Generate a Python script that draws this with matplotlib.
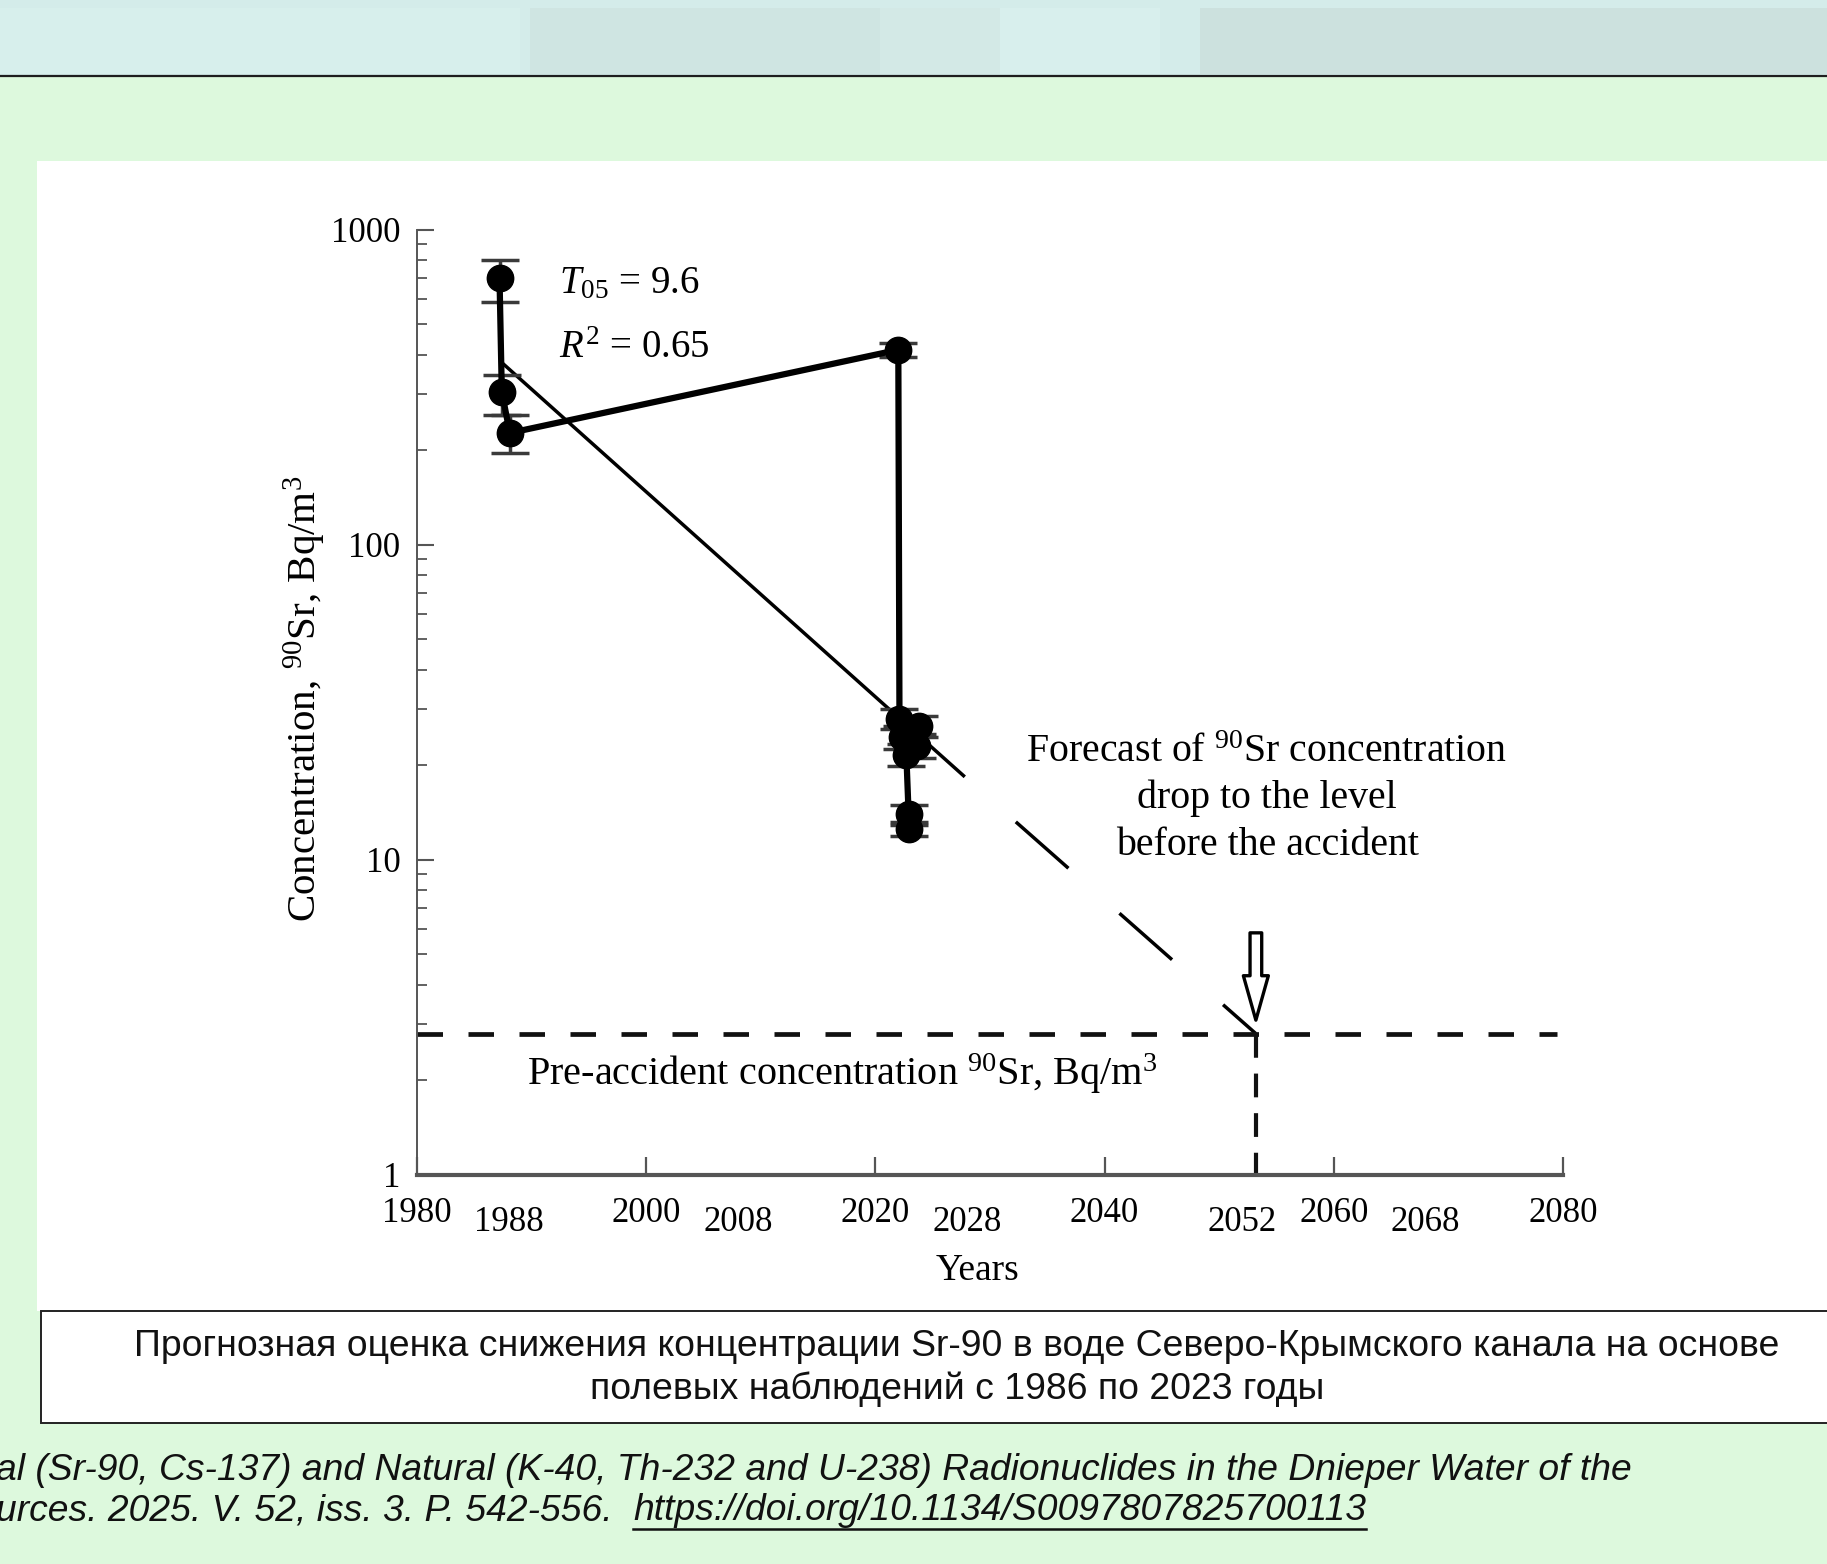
import numpy as np
import matplotlib
matplotlib.use("Agg")
import matplotlib.pyplot as plt
from matplotlib.patches import Rectangle
from matplotlib.lines import Line2D
from matplotlib.ticker import FixedLocator, FixedFormatter, LogLocator, NullFormatter

# ---- values ----
obs_years = [1987.2, 1987.4, 1988.1, 2022.0, 2022.1, 2023.8, 2022.3, 2023.6, 2022.7, 2022.9, 2022.9]
obs_conc = [702, 305, 226, 415, 28, 26.5, 24.5, 23, 21.5, 13.9, 12.5]
obs_low = [589, 258, 195, 395, 26, 24.5, 22.5, 21, 19.8, 12.9, 11.9]
obs_high = [800, 345, 258, 435, 30, 28.5, 26.5, 25, 23.2, 14.9, 13.2]

# regression: start, end of solid part, crossing of pre-accident level
fit_years = [1987.4, 2027.8, 2053.2]
fit_conc = [378, 18.3, 2.8]

pre_accident_level = 2.8
target_year = 2053.2
arrow_top, arrow_tip = 5.85, 3.09

major_years = [1980, 2000, 2020, 2040, 2060, 2080]
extra_years = [1988, 2008, 2028, 2052, 2068]
y_ticks = [1, 10, 100, 1000]
y_ticklabels = ["1", "10", "100", "1000"]

caption_lines = ["Прогнозная оценка снижения концентрации Sr-90 в воде Северо-Крымского канала на основе",
                 "полевых наблюдений с 1986 по 2023 годы"]
citation_line1 = "al (Sr-90, Cs-137) and Natural (K-40, Th-232 and U-238) Radionuclides in the Dnieper Water of the"
citation_line2 = "urces. 2025. V. 52, iss. 3. P. 542-556.  "
citation_url = "https://doi.org/10.1134/S0097807825700113"
forecast_lines = [r"Forecast of $^{90}$Sr concentration", "drop to the level", "before the accident"]

W, H = 1827, 1564
GREEN = "#ddf9dd"

plt.rcParams['font.family'] = ['Liberation Serif', 'DejaVu Serif']
plt.rcParams['mathtext.fontset'] = 'custom'
plt.rcParams['mathtext.rm'] = 'Liberation Serif'
plt.rcParams['mathtext.it'] = 'Liberation Serif:italic'


def fx(x):
    return x / W


def fy(y):
    return 1 - y / H


def rect(fig, x0, y0, x1, y1, **kw):
    r = Rectangle((fx(x0), fy(y1)), (x1 - x0) / W, (y1 - y0) / H,
                  transform=fig.transFigure, **kw)
    fig.add_artist(r)
    return r


fig = plt.figure(figsize=(W / 100, H / 100), dpi=100, facecolor=GREEN)

# header band (blurred page banner)
rect(fig, 0, 0, W, 76, facecolor="#d4ecea", edgecolor="none", zorder=0)
for x0, x1, c in [(0, 520, "#d7efec"), (530, 880, "#cfe5e2"), (880, 1000, "#d3e9e6"),
                  (1000, 1160, "#d8efed"), (1200, 1827, "#cce1de")]:
    rect(fig, x0, 8, x1, 74, facecolor=c, edgecolor="none", zorder=0)
fig.add_artist(Line2D([0, 1], [fy(76), fy(76)], transform=fig.transFigure,
                      color="#1e1e1e", lw=1.6, zorder=1))

# white panel and caption box
rect(fig, 37, 161, W + 5, 1311, facecolor="white", edgecolor="none", zorder=0)
rect(fig, 41, 1311, W + 20, 1423, facecolor="white", edgecolor="#222222", lw=1.4, zorder=1)

ax = fig.add_axes([fx(417), fy(1174.5), 1146 / W, 945 / H])
ax.set_facecolor("none")
ax.set_yscale("log")
ax.set_xlim(1980, 2080)
ax.set_ylim(1, 1000)

# regression line, solid then dashed forecast
ax.plot(fit_years[:2], fit_conc[:2], color="black", lw=2.5, solid_capstyle="butt", zorder=2)
ax.plot(fit_years[1:], fit_conc[1:], color="black", lw=2.5,
        linestyle=(20.2, (20.2, 19.6)), dash_capstyle="butt", zorder=2)

# pre-accident level and year marker
ax.plot([major_years[0], major_years[-1] - 0.5], [pre_accident_level, pre_accident_level],
        color="#111111", lw=3.4, linestyle=(0, (5.4, 5.4)), dash_capstyle="butt", zorder=2)
ax.plot([target_year, target_year], [pre_accident_level, 1], color="#111111", lw=3.0,
        linestyle=(0, (5.7, 3.8)), dash_capstyle="butt", zorder=2)

ax.annotate("", xy=(target_year, arrow_tip), xytext=(target_year, arrow_top),
            arrowprops=dict(arrowstyle="simple,head_length=1.6,head_width=0.9,tail_width=0.42",
                            fc="white", ec="black", lw=2.4, shrinkA=0, shrinkB=0,
                            mutation_scale=20), zorder=4)

# observations
obs_conc_a = np.array(obs_conc)
yerr = [obs_conc_a - np.array(obs_low), np.array(obs_high) - obs_conc_a]
ax.errorbar(obs_years, obs_conc, yerr=yerr, fmt="o-", color="black", lw=4.5, ms=19,
            ecolor="#3a3a3a", elinewidth=2.5, capsize=14, capthick=2.5, zorder=3)

# axes styling
for s in ["top", "right"]:
    ax.spines[s].set_visible(False)
ax.spines["left"].set_color("#555555")
ax.spines["left"].set_linewidth(1.4)
ax.spines["bottom"].set_color("#555555")
ax.spines["bottom"].set_linewidth(3.0)

ax.yaxis.set_major_locator(FixedLocator(y_ticks))
ax.yaxis.set_major_formatter(FixedFormatter(y_ticklabels))
ax.yaxis.set_minor_locator(LogLocator(base=10, subs=np.arange(2, 10)))
ax.yaxis.set_minor_formatter(NullFormatter())
ax.tick_params(axis="y", which="major", direction="in", length=12, width=1.5,
               color="#555555", pad=12, labelsize=25)
ax.tick_params(axis="y", which="minor", direction="in", length=7, width=1.3, color="#555555")

ax.xaxis.set_major_locator(FixedLocator(major_years))
ax.xaxis.set_major_formatter(FixedFormatter([str(y) for y in major_years]))
ax.xaxis.set_minor_locator(FixedLocator(extra_years))
ax.xaxis.set_minor_formatter(FixedFormatter([str(y) for y in extra_years]))
ax.tick_params(axis="x", which="major", direction="in", length=13, width=1.6,
               color="#555555", pad=16, labelsize=25)
ax.tick_params(axis="x", which="minor", length=0, pad=23, labelsize=25)

# texts in pixel positions of the reference
fig.text(fx(305), fy(699), r"Concentration, $^{90}$Sr, Bq/m$^{3}$", rotation=90,
         ha="center", va="center", fontsize=29.5)
fig.text(fx(978), fy(1280), "Years", ha="center", va="baseline", fontsize=27)
fig.text(fx(559), fy(293), r"$T_{\mathrm{05}}$ = 9.6", ha="left", va="baseline", fontsize=28)
fig.text(fx(559), fy(358), r"$R^{2}$ = 0.65", ha="left", va="baseline", fontsize=28)
for line, base in zip(forecast_lines, [762, 808, 855]):
    fig.text(fx(1267), fy(base), line, ha="center", va="baseline", fontsize=28.7)
fig.text(fx(527), fy(1085), r"Pre-accident concentration $^{90}$Sr, Bq/m$^{3}$",
         ha="left", va="baseline", fontsize=29)

# caption and citation
for line, yc in zip(caption_lines, [1346, 1389]):
    fig.text(fx(957), fy(yc), line, ha="center", va="center", fontsize=26.9,
             family="Liberation Sans", color="#111111")

fig.text(fx(-4), fy(1470), citation_line1, ha="left", va="center", fontsize=26.8,
         family="Liberation Sans", style="italic", color="#111111")
t2 = fig.text(fx(-4), fy(1511), citation_line2, ha="left", va="center", fontsize=26.8,
              family="Liberation Sans", style="italic", color="#111111")
renderer = fig.canvas.get_renderer()
bb = t2.get_window_extent(renderer)
turl = fig.text(bb.x1 / W, fy(1511), citation_url, ha="left", va="center", fontsize=26.8,
                family="Liberation Sans", style="italic", color="#111111")
bu = turl.get_window_extent(renderer)
fig.add_artist(Line2D([bu.x0 / W, bu.x1 / W], [fy(1529), fy(1529)], transform=fig.transFigure,
                      color="#111111", lw=1.8))

fig.savefig("out.png", dpi=100, facecolor=GREEN)
